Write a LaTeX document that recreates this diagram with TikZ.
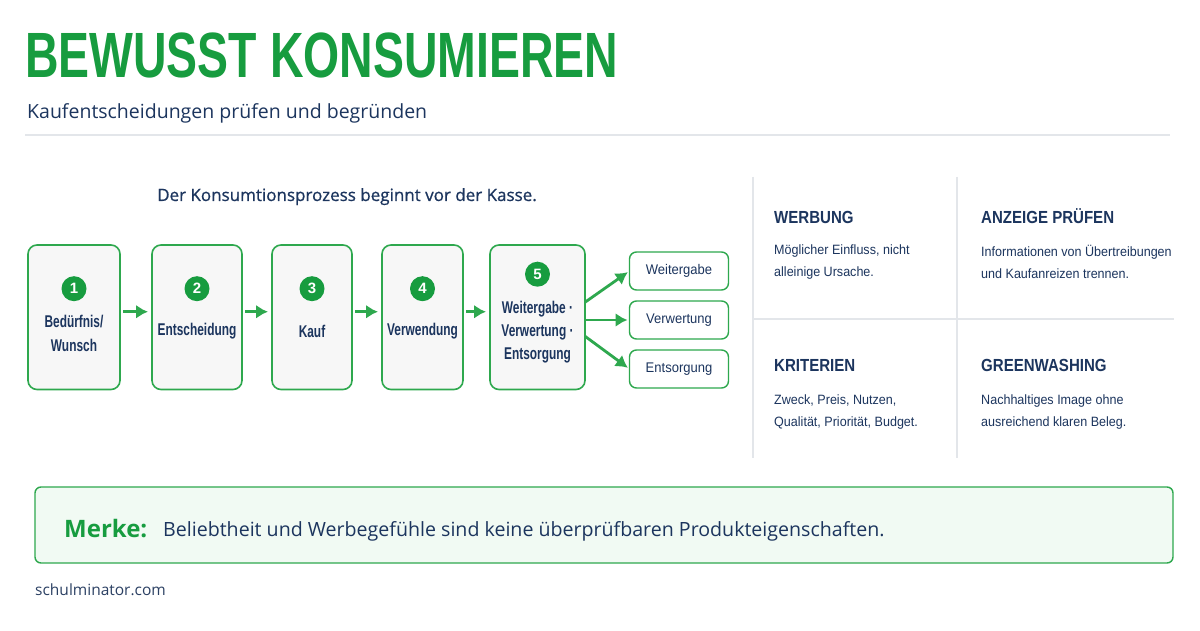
\documentclass[tikz,border=0pt]{standalone}
\usepackage{fontspec}
\usepackage{graphicx}
\setmainfont{Open Sans}
\newfontfamily\condfont[FakeStretch=0.7]{Liberation Sans}
\newfontfamily\headfont[FakeStretch=0.86]{Liberation Sans}
\newfontfamily\bodyfont[FakeStretch=0.93]{Liberation Sans}
\newfontfamily\titlefont{Liberation Sans}
\newfontfamily\semifont[FakeBold=0.8]{Open Sans}
\usetikzlibrary{arrows.meta,positioning}
\definecolor{kgreen}{HTML}{179C3F}
\definecolor{kline}{HTML}{2EA84E}
\definecolor{knavy}{HTML}{1C355E}
\definecolor{kfill}{HTML}{F7F7F7}
\definecolor{kgrid}{HTML}{E3E6EA}
\definecolor{kmerke}{HTML}{F1FAF3}
\begin{document}
\begin{tikzpicture}[x=1pt,y=1pt,
  node distance=30pt,
  stepbox/.style={draw=kline,line width=1.6pt,rounded corners=9pt,fill=kfill,minimum height=144.5pt,inner sep=0pt,outer sep=0pt},
  num/.style={circle,fill=kgreen,text=white,minimum size=25pt,inner sep=0pt,font=\titlefont\bfseries\fontsize{15}{15}\selectfont},
  lbl/.style={text=knavy,align=center,inner sep=0pt,font=\condfont\bfseries\fontsize{17}{23}\selectfont},
  outbox/.style={draw=kline,line width=1.4pt,rounded corners=7pt,fill=white,minimum width=99pt,minimum height=38pt,outer sep=0pt,text=knavy,font=\bodyfont\fontsize{14}{16}\selectfont},
  arr/.style={-{Latex[length=12pt,width=14pt]},draw=kline,line width=3.4pt},
  head/.style={anchor=base west,text=knavy,inner sep=0pt,font=\headfont\bfseries\fontsize{17.5}{20}\selectfont},
  body/.style={anchor=north west,text=knavy,align=left,inner sep=0pt,font=\bodyfont\fontsize{13.5}{22}\selectfont},
  gridline/.style={draw=kgrid,line width=1.5pt}
]
\useasboundingbox (0,0) rectangle (1200,630);
\fill[white] (0,0) rectangle (1200,630);

\node[anchor=base west,inner sep=0pt,text=kgreen] (title) at (25,552) {\scalebox{0.725}[1]{\titlefont\bfseries\fontsize{64}{64}\selectfont BEWUSST KONSUMIEREN}};
\node[anchor=base west,inner sep=0pt,text=knavy,font=\fontsize{19.5}{22}\selectfont] (subtitle) at (27,511) {Kaufentscheidungen prüfen und begründen};
\draw[gridline] (25,495) -- (1170,495);

\node[anchor=base,inner sep=0pt,text=knavy,font=\semifont\fontsize{17}{20}\selectfont] (intro) at (347,429) {Der Konsumtionsprozess beginnt vor der Kasse.};

\node[stepbox,minimum width=92pt] (s1) at (74,312.75) {};
\node[stepbox,minimum width=90pt,right=32pt of s1] (s2) {};
\node[stepbox,minimum width=80pt,right=of s2] (s3) {};
\node[stepbox,minimum width=81pt,right=of s3] (s4) {};
\node[stepbox,minimum width=95pt,right=27pt of s4] (s5) {};

\node[num,below=31pt of s1.north] (c1) {1};
\node[num,below=31pt of s2.north] (c2) {2};
\node[num,below=31pt of s3.north] (c3) {3};
\node[num,below=31pt of s4.north] (c4) {4};
\node[num,below=16.5pt of s5.north] (c5) {5};

\node[lbl,font=\condfont\bfseries\fontsize{17}{24}\selectfont] (l1) at ([yshift=-16pt]s1.center) {Bedürfnis/\\Wunsch};
\node[lbl] (l2) at ([yshift=-14pt]s2.center) {Entscheidung};
\node[lbl] (l3) at ([yshift=-14pt]s3.center) {Kauf};
\node[lbl] (l4) at ([yshift=-14pt]s4.center) {Verwendung};
\node[lbl] (l5) at ([yshift=-15pt]s5.center) {Weitergabe ·\\Verwertung ·\\Entsorgung};

\node[outbox] (o1) at (679,359) {Weitergabe};
\node[outbox,below=11pt of o1] (o2) {Verwertung};
\node[outbox,below=11pt of o2] (o3) {Entsorgung};

\draw[arr,shorten <=3pt,shorten >=4pt] ([yshift=5.5pt]s1.east) -- ([yshift=5.5pt]s2.west);
\draw[arr,shorten <=3pt,shorten >=4pt] ([yshift=5.5pt]s2.east) -- ([yshift=5.5pt]s3.west);
\draw[arr,shorten <=3pt,shorten >=4pt] ([yshift=5.5pt]s3.east) -- ([yshift=5.5pt]s4.west);
\draw[arr,shorten <=3pt,shorten >=4pt] ([yshift=5.5pt]s4.east) -- ([yshift=5.5pt]s5.west);
\draw[arr,line width=2.8pt,shorten >=2pt] ([yshift=15pt]s5.east) -- (o1.west);
\draw[arr,line width=2.8pt,shorten >=2pt] (s5.east |- o2.west) -- (o2.west);
\draw[arr,line width=2.8pt,shorten >=2pt] ([yshift=-19pt]s5.east) -- (o3.west);

\draw[gridline] (753,453) -- (753,172);
\draw[gridline] (957,453) -- (957,172);
\draw[gridline] (753,311) -- (1174,311);

\node[head] (h1) at (774,406) {WERBUNG};
\node[head] (h2) at (981,406) {ANZEIGE PRÜFEN};
\node[head] (h3) at (774,258) {KRITERIEN};
\node[head] (h4) at (981,258) {GREENWASHING};
\node[body] (b1) at (774,385) {Möglicher Einfluss, nicht\\alleinige Ursache.};
\node[body] (b2) at (981,385) {Informationen von Übertreibungen\\und Kaufanreizen trennen.};
\node[body] (b3) at (774,235) {Zweck, Preis, Nutzen,\\Qualität, Priorität, Budget.};
\node[body] (b4) at (981,235) {Nachhaltiges Image ohne\\ausreichend klaren Beleg.};

\node[draw=kline,fill=kmerke,line width=1.4pt,rounded corners=6pt,minimum width=1138pt,minimum height=76pt,outer sep=0pt] (merke) at (604,105) {};
\node[anchor=base west,inner sep=0pt,text=kgreen,font=\bfseries\fontsize{24}{24}\selectfont] (mk) at (64,93) {Merke:};
\node[anchor=base west,inner sep=0pt,text=knavy,font=\fontsize{19.6}{22}\selectfont] (mtext) at (163,94) {Beliebtheit und Werbegefühle sind keine überprüfbaren Produkteigenschaften.};

\node[anchor=base west,inner sep=0pt,text=knavy!85!gray,font=\fontsize{15.5}{18}\selectfont] (site) at (35,35) {schulminator.com};
\end{tikzpicture}
\end{document}
